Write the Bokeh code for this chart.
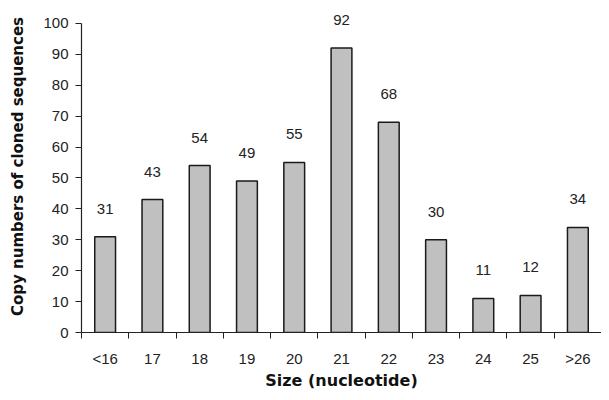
from bokeh.plotting import figure
from bokeh.models import ColumnDataSource, FixedTicker, Range1d
from bokeh.core.properties import value
from bokeh.embed import file_html
from bokeh.resources import INLINE

# Data
sizes = ["<16", "17", "18", "19", "20", "21", "22", "23", "24", "25", ">26"]
copies = [31, 43, 54, 49, 55, 92, 68, 30, 11, 12, 34]
y_ticks = [0, 10, 20, 30, 40, 50, 60, 70, 80, 90, 100]

idx = list(range(len(sizes)))
src = ColumnDataSource(dict(x=idx, top=copies, label=[str(c) for c in copies]))

FONT = "Liberation Sans"
TITLE_FONT = "DejaVu Sans"

p = figure(width=601, height=392, output_backend="svg", toolbar_location=None,
           x_range=Range1d(-0.5, len(sizes) - 0.5), y_range=Range1d(0, 107.4),
           min_border_left=81, min_border_right=0, min_border_top=0,
           min_border_bottom=59)
p.outline_line_color = None
p.xgrid.grid_line_color = None
p.ygrid.grid_line_color = None
p.background_fill_color = "white"
p.border_fill_color = "white"

p.vbar(x="x", top="top", bottom=0, width=0.44, source=src,
       fill_color="#c0c0c0", line_color="#1a1a1a", line_width=1.5)

p.text(x="x", y="top", text="label", source=src, text_align="center",
       text_baseline="middle", y_offset=-28, text_font=value(FONT),
       text_font_size="15px", text_color="#222222")

# x axis: labels at category centres, ticks at category boundaries
xax = p.xaxis[0]
bounds = [i - 0.5 for i in range(len(sizes) + 1)]
xax.ticker = FixedTicker(ticks=idx, minor_ticks=bounds)
xax.major_label_overrides = {i: s for i, s in enumerate(sizes)}
xax.major_tick_out = 0
xax.major_tick_in = 0
xax.minor_tick_out = 6
xax.minor_tick_in = 0
xax.minor_tick_line_color = "#222222"
xax.axis_line_color = "#222222"
xax.axis_line_width = 1.2
xax.major_label_standoff = 11
xax.major_label_text_font = FONT
xax.major_label_text_font_size = "15px"
xax.major_label_text_color = "#222222"
xax.axis_label = "Size (nucleotide)"
xax.axis_label_text_font = TITLE_FONT
xax.axis_label_text_font_size = "16px"
xax.axis_label_text_font_style = "bold"
xax.axis_label_text_color = "#111111"
xax.axis_label_standoff = 1

yax = p.yaxis[0]
yax.bounds = (0, 100)
yax.ticker = FixedTicker(ticks=y_ticks, minor_ticks=[])
yax.major_tick_out = 6
yax.major_tick_in = 0
yax.major_tick_line_color = "#222222"
yax.axis_line_color = "#222222"
yax.axis_line_width = 1.2
yax.major_label_standoff = 7
yax.major_label_text_font = FONT
yax.major_label_text_font_size = "15px"
yax.major_label_text_color = "#222222"
yax.axis_label = "Copy numbers of cloned sequences"
yax.axis_label_text_font = TITLE_FONT
yax.axis_label_text_font_size = "15px"
yax.axis_label_text_font_style = "bold"
yax.axis_label_text_color = "#111111"
yax.axis_label_standoff = 13

open("out.html", "w").write(file_html(p, INLINE))
